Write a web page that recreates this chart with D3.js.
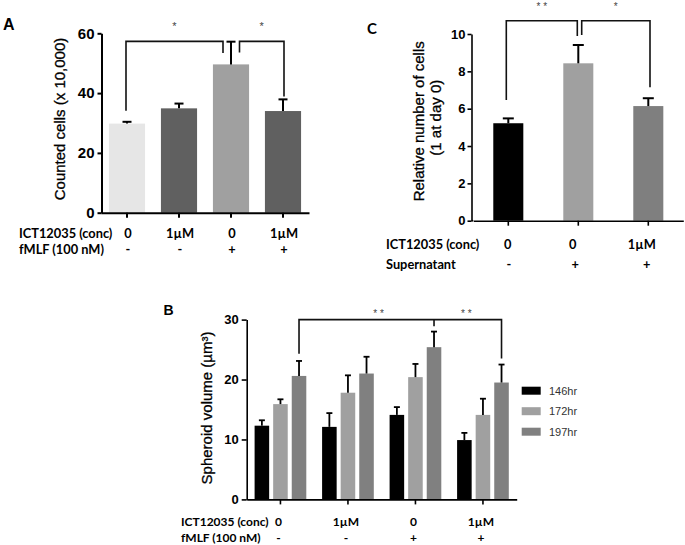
<!DOCTYPE html>
<html><head><meta charset="utf-8">
<script src="https://cdn.jsdelivr.net/npm/d3@7"></script>
<style>body{margin:0;background:#fff} svg{display:block}</style>
</head><body><svg id="c" width="685" height="545"></svg>
<script>
// ---------- Panel A ----------
const catsA = ["a1","a2","a3","a4"];
const ictA = ["0","1µM","0","1µM"];
const fmlfA = ["-","-","+","+"];
const valuesA = [29.8, 34.9, 49.6, 34.0];
const errorsA = [0.6, 1.6, 7.6, 3.9];
const colorsA = ["#e6e6e6","#606060","#a0a0a0","#606060"];
const ticksA = [0, 20, 40, 60];
// ---------- Panel C ----------
const catsC = ["c1","c2","c3"];
const ictC = ["0","0","1µM"];
const superC = ["-","+","+"];
const valuesC = [5.22, 8.43, 6.14];
const errorsC = [0.26, 0.98, 0.42];
const colorsC = ["#000000","#a0a0a0","#7f7f7f"];
const ticksC = [0, 2, 4, 6, 8, 10];
// ---------- Panel B ----------
const groupsB = ["g1","g2","g3","g4"];
const ictB = ["0","1µM","0","1µM"];
const fmlfB = ["-","-","+","+"];
const seriesB = ["146hr","172hr","197hr"];
const values146 = [12.3, 12.1, 14.1, 9.9];
const errors146 = [0.9, 2.3, 1.3, 1.2];
const values172 = [15.9, 17.8, 20.4, 14.1];
const errors172 = [0.8, 2.9, 2.2, 2.7];
const values197 = [20.6, 21.0, 25.4, 19.5];
const errors197 = [2.5, 2.8, 2.6, 3.0];
const colorsB = ["#000000","#a0a0a0","#808080"];
const ticksB = [0, 10, 20, 30];

const svg = d3.select("#c");
const AX = "'Liberation Sans', Arial, sans-serif";
const CAL = "Lato, Carlito, Calibri, sans-serif";

function yAxis(y, ticks, x0, fs, tickSize, pad, sw) {
  const ax = d3.axisLeft(y).tickValues(ticks).tickSize(tickSize).tickSizeOuter(0).tickPadding(pad).tickFormat(d3.format("d"));
  const g = svg.append("g").attr("transform", `translate(${x0},0)`).call(ax);
  g.select(".domain").attr("stroke", "#000").attr("stroke-width", sw);
  g.selectAll(".tick line").attr("stroke", "#000").attr("stroke-width", sw);
  g.selectAll(".tick text").attr("font-family", AX).attr("font-weight", "bold").attr("font-size", fs).attr("fill", "#000");
}
function xAxis(x, y0, sw) {
  const ax = d3.axisBottom(x).tickSize(5).tickSizeOuter(0).tickFormat("");
  const g = svg.append("g").attr("transform", `translate(0,${y0})`).call(ax);
  g.select(".domain").attr("stroke", "#000").attr("stroke-width", sw);
  g.selectAll(".tick line").attr("stroke", "#000").attr("stroke-width", sw);
}
function errBar(cx, yTop, yErr, cap, sw) {
  svg.append("line").attr("x1", cx).attr("x2", cx).attr("y1", yTop).attr("y2", yErr).attr("stroke", "#000").attr("stroke-width", sw);
  svg.append("line").attr("x1", cx - cap/2).attr("x2", cx + cap/2).attr("y1", yErr).attr("y2", yErr).attr("stroke", "#000").attr("stroke-width", sw);
}
function bracket(x1, x2, yb, y1, y2, sw) {
  svg.append("path").attr("d", `M${x1},${y1}V${yb}H${x2}V${y2}`).attr("fill", "none").attr("stroke", "#111").attr("stroke-width", sw);
}
function star(x, cy, txt, fs) {
  svg.append("text").attr("x", x).attr("y", cy + fs*0.58).attr("text-anchor", "middle")
    .attr("font-family", AX).attr("font-size", fs).attr("fill", "#444").text(txt);
}
function rowLabels(xStart, yBase, label, vals, xs, fs) {
  svg.append("text").attr("x", xStart).attr("y", yBase).attr("font-family", CAL).attr("font-weight", "bold")
    .attr("font-size", fs).attr("fill", "#000").text(label);
  vals.forEach((v, i) => {
    svg.append("text").attr("x", xs[i]).attr("y", yBase).attr("text-anchor", "middle").attr("font-family", CAL)
      .attr("font-weight", "bold").attr("font-size", fs).attr("fill", "#000").text(v);
  });
}
function yLabel(x, y, txt, fs) {
  svg.append("text").attr("transform", `translate(${x},${y}) rotate(-90)`).attr("text-anchor", "middle").attr("dy", "0.35em")
    .attr("font-family", AX).attr("font-size", fs).attr("fill", "#000").attr("stroke", "#000").attr("stroke-width", 0.3).text(txt);
}

// ===== Panel A =====
{
  const x = d3.scaleBand().domain(catsA).range([101, 309]).paddingInner(0.305).paddingOuter(0.1525);
  const y = d3.scaleLinear().domain([0, 60]).range([212.7, 33.3]);
  catsA.forEach((c, i) => {
    svg.append("rect").attr("x", x(c)).attr("width", x.bandwidth()).attr("y", y(valuesA[i]))
      .attr("height", y(0) - y(valuesA[i])).attr("fill", colorsA[i]);
  });
  catsA.forEach((c, i) => errBar(x(c) + x.bandwidth()/2, y(valuesA[i]), y(valuesA[i] + errorsA[i]), 9, 2));
  yAxis(y, ticksA, 101.5, 15, 4, 3, 2);
  xAxis(x, 212.7, 2);
  const cx = c => x(c) + x.bandwidth()/2;
  bracket(cx(catsA[0]) - 1, cx(catsA[2]) - 8, y(57.3), y(34.1), y(53.4), 1.6);
  bracket(cx(catsA[2]) + 8.5, cx(catsA[3]) + 1, y(57.3), y(53.6), y(38.9), 1.6);
  star((cx(catsA[0]) + cx(catsA[2]) - 9) / 2, 24, "*", 11);
  star((cx(catsA[2]) + cx(catsA[3]) + 9.5) / 2, 24, "*", 11);
  yLabel(60, 119, "Counted cells (x 10,000)", 15);
  svg.append("text").attr("x", 3).attr("y", 30).attr("font-family", AX).attr("font-weight", "bold").attr("font-size", 16).text("A");
  const xs = catsA.map(c => cx(c) + 1);
  rowLabels(19, 237.5, "ICT12035 (conc)", ictA, xs, 12.8);
  rowLabels(19, 253.5, "fMLF (100 nM)", fmlfA, xs, 12.8);
}

// ===== Panel C =====
{
  const x = d3.scaleBand().domain(catsC).range([473.3, 683.3]).paddingInner(0.571).paddingOuter(0.2855);
  const y = d3.scaleLinear().domain([0, 10]).range([220.7, 34]);
  catsC.forEach((c, i) => {
    svg.append("rect").attr("x", x(c)).attr("width", x.bandwidth()).attr("y", y(valuesC[i]))
      .attr("height", y(0) - y(valuesC[i])).attr("fill", colorsC[i]);
  });
  catsC.forEach((c, i) => errBar(x(c) + x.bandwidth()/2, y(valuesC[i]), y(valuesC[i] + errorsC[i]), 11, 2));
  svg.append("line").attr("x1", 471.5).attr("x2", 473.3).attr("y1", 220.7).attr("y2", 220.7).attr("stroke", "#000").attr("stroke-width", 1.6);
  yAxis(y, ticksC, 471.5, 13, 4, 2, 1.6);
  xAxis(x, 220.7, 1.6);
  const cx = c => x(c) + x.bandwidth()/2;
  bracket(cx(catsC[0]) - 2, cx(catsC[1]) - 1, y(10.71), y(6.47), y(9.89), 1.6);
  bracket(cx(catsC[1]) + 3.4, cx(catsC[2]) + 1.7, y(10.71), y(9.95), y(7.15), 1.6);
  star((cx(catsC[0]) + cx(catsC[1]) - 3) / 2, 4.5, "* *", 10);
  star((cx(catsC[1]) + cx(catsC[2]) + 5) / 2, 4.5, "*", 10);
  svg.append("text").attr("transform", "translate(418.3,121.3) rotate(-90)").attr("text-anchor", "middle").attr("dy", "0.35em")
    .attr("font-family", AX).attr("font-size", 15).attr("stroke", "#000").attr("stroke-width", 0.3).text("Relative number of cells");
  svg.append("text").attr("transform", "translate(435.3,117.7) rotate(-90)").attr("text-anchor", "middle").attr("dy", "0.35em")
    .attr("font-family", AX).attr("font-size", 15).attr("stroke", "#000").attr("stroke-width", 0.3).text("(1 at day 0)");
  svg.append("text").attr("x", 367).attr("y", 33.5).attr("font-family", CAL).attr("font-weight", "bold").attr("font-size", 15).text("C");
  rowLabels(386, 248.5, "ICT12035 (conc)", ictC, catsC.map((c, i) => cx(c) + [-0.5, -5.5, -6.5][i]), 12.8);
  rowLabels(386, 268.5, "Supernatant", superC, catsC.map((c, i) => cx(c) + [0.5, -3, -1.5][i]), 12.8);
}

// ===== Panel B =====
{
  const valsB = [values146, values172, values197];
  const errsB = [errors146, errors172, errors197];
  const x0 = d3.scaleBand().domain(groupsB).range([246.7, 516.7]).paddingInner(0.234).paddingOuter(0.117);
  const x1 = d3.scaleBand().domain(seriesB).range([0, x0.bandwidth()]).paddingInner(0.216).paddingOuter(0);
  const y = d3.scaleLinear().domain([0, 30]).range([499.4, 319.6]);
  seriesB.forEach((s, si) => {
    groupsB.forEach((g, gi) => {
      const v = valsB[si][gi];
      svg.append("rect").attr("x", x0(g) + x1(s)).attr("width", x1.bandwidth()).attr("y", y(v))
        .attr("height", y(0) - y(v)).attr("fill", colorsB[si]);
    });
  });
  seriesB.forEach((s, si) => {
    groupsB.forEach((g, gi) => {
      const v = valsB[si][gi];
      errBar(x0(g) + x1(s) + x1.bandwidth()/2, y(v), y(v + errsB[si][gi]), 6, 1.8);
    });
  });
  yAxis(y, ticksB, 246.7, 13, 5, 3, 1.6);
  xAxis(x0, 499.4, 1.6);
  const dx = (g) => x0(g) + x1("197hr") + x1.bandwidth()/2;
  svg.append("path").attr("d", `M${dx("g1")},${y(24.3)}V${y(30)}H${dx("g4")}V${y(23.5)}`)
    .attr("fill", "none").attr("stroke", "#111").attr("stroke-width", 1.6);
  svg.append("line").attr("x1", dx("g3")).attr("x2", dx("g3")).attr("y1", y(30)).attr("y2", y(28.9)).attr("stroke", "#111").attr("stroke-width", 1.6);
  star((dx("g1") + dx("g3")) / 2 + 12, 311.5, "* *", 10);
  star((dx("g3") + dx("g4")) / 2 - 1.5, 311.5, "* *", 10);
  yLabel(206.7, 408, "Spheroid volume (µm³)", 15);
  svg.append("text").attr("x", 163.5).attr("y", 315).attr("font-family", AX).attr("font-weight", "bold").attr("font-size", 14).text("B");
  const xs = groupsB.map(g => x0(g) + x0.bandwidth()/2 - 2);
  rowLabels(181, 526, "ICT12035 (conc)", ictB, xs, 12);
  rowLabels(181, 541.5, "fMLF (100 nM)", fmlfB, xs, 12);
  // legend
  seriesB.forEach((s, i) => {
    const cy = 390.7 + i * 20.5;
    svg.append("rect").attr("x", 521.7).attr("y", cy - 4).attr("width", 19).attr("height", 8).attr("fill", colorsB[i]);
    svg.append("text").attr("x", 549).attr("y", cy + 4).attr("font-family", AX).attr("font-size", 11).attr("fill", "#333").text(s);
  });
}
</script></body></html>
